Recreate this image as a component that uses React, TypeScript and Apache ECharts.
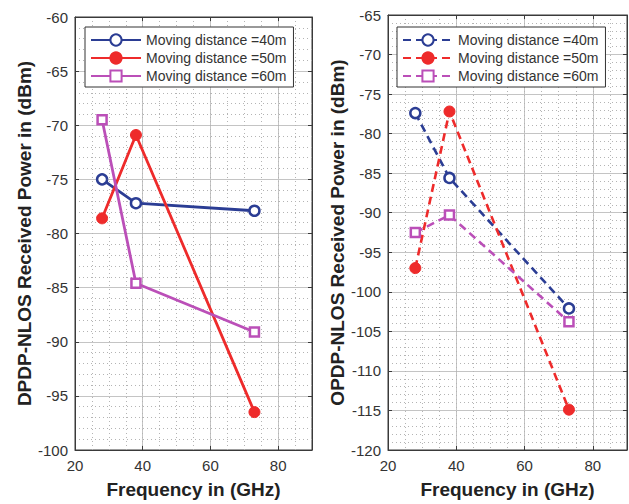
import React, { useEffect, useRef } from "react";
import * as echarts from "echarts";

const freqs = [28, 38, 73];
const xTicks = [20, 40, 60, 80];

// left panel (DPDP-NLOS)
const left40 = [-75.0, -77.2, -77.9];
const left50 = [-78.6, -70.9, -96.5];
const left60 = [-69.5, -84.6, -89.1];

// right panel (OPDP-NLOS)
const right40 = [-77.4, -85.6, -102.1];
const right50 = [-97.0, -77.2, -114.9];
const right60 = [-92.5, -90.3, -103.8];

const legendNames: Record<string, string> = {
  L40: "Moving distance =40m",
  L50: "Moving distance =50m",
  L60: "Moving distance =60m",
  R40: "Moving distance =40m",
  R50: "Moving distance =50m",
  R60: "Moving distance =60m",
};

const FONT = "Arial, 'Liberation Sans', Helvetica, sans-serif";
const BLUE = "#2b3d94";
const RED = "#ee2b2b";
const MAG = "#bb4fb8";
const AXIS = "#3a3a3a";

function pts(v: number[]) {
  return freqs.map((f, i) => [f, v[i]]);
}

export default function App() {
  const ref = useRef<HTMLDivElement>(null);
  useEffect(() => {
    if (!ref.current) return;
    const chart = echarts.init(ref.current, null, { renderer: "svg" });

    const mainX = (gridIndex: number) => ({
      type: "value",
      gridIndex,
      position: "bottom",
      min: xTicks[0],
      max: 90,
      interval: 20,
      axisLine: { show: true, lineStyle: { color: AXIS, width: 1 } },
      axisTick: { show: true, inside: true, length: 4, lineStyle: { color: AXIS } },
      axisLabel: { showMaxLabel: false, color: "#333", fontSize: 15, margin: 8, fontFamily: FONT },
      splitLine: { show: true, lineStyle: { color: "#c4c4c4", width: 1 } },
      name: "Frequency in (GHz)",
      nameLocation: "middle",
      nameGap: 30,
      nameTextStyle: { fontSize: 19, fontWeight: "bold", color: "#222", fontFamily: FONT },
    });
    const topX = (gridIndex: number) => ({
      type: "value",
      gridIndex,
      position: "top",
      min: 20,
      max: 90,
      interval: 20,
      axisLine: { show: true, lineStyle: { color: AXIS, width: 1 } },
      axisTick: { show: true, inside: true, length: 4, lineStyle: { color: AXIS } },
      axisLabel: { show: false },
      splitLine: { show: false },
    });
    const minorX = (gridIndex: number) => ({
      type: "value",
      gridIndex,
      position: "top",
      min: 20,
      max: 90,
      interval: 5,
      axisLine: { show: false },
      axisTick: { show: false },
      axisLabel: { show: false },
      splitLine: { show: true, lineStyle: { color: "#b4b4b4", width: 1, type: [1, 3] } },
    });
    const mainY = (gridIndex: number, min: number, max: number, name: string, gap: number) => ({
      type: "value",
      gridIndex,
      position: "left",
      min,
      max,
      interval: 5,
      axisLine: { show: true, lineStyle: { color: AXIS, width: 1 } },
      axisTick: { show: true, inside: true, length: 4, lineStyle: { color: AXIS } },
      axisLabel: { color: "#333", fontSize: 15, margin: 7, fontFamily: FONT },
      splitLine: { show: true, lineStyle: { color: "#c4c4c4", width: 1 } },
      minorTick: { show: false, splitNumber: 5 },
      minorSplitLine: { show: true, lineStyle: { color: "#b4b4b4", width: 1, type: [1, 3] } },
      name,
      nameLocation: "middle",
      nameGap: gap,
      nameTextStyle: { fontSize: 19, fontWeight: "bold", color: "#222", fontFamily: FONT },
    });
    const rightY = (gridIndex: number, min: number, max: number) => ({
      type: "value",
      gridIndex,
      position: "right",
      min,
      max,
      interval: 5,
      axisLine: { show: true, lineStyle: { color: AXIS, width: 1 } },
      axisTick: { show: true, inside: true, length: 4, lineStyle: { color: AXIS } },
      axisLabel: { show: false },
      splitLine: { show: false },
    });

    const solid = (name: string, data: number[], color: string, symbol: string, hollow: boolean, size: number, xi: number, yi: number, dashed: boolean) => ({
      type: "line",
      name,
      xAxisIndex: xi,
      yAxisIndex: yi,
      data: pts(data),
      symbol,
      symbolSize: size,
      showSymbol: true,
      lineStyle: { color, width: dashed ? 2.6 : 2.8, type: dashed ? [8, 5] : "solid" },
      itemStyle: hollow
        ? { color: "#fff", borderColor: color, borderWidth: 2.5 }
        : { color, borderColor: color, borderWidth: 1 },
      z: 5,
    });

    const legendBase = {
      orient: "vertical",
      top: 27,
      itemWidth: 50,
      itemHeight: 14,
      itemGap: 4,
      padding: [6, 7, 4, 5],
      backgroundColor: "#fff",
      borderColor: "#333",
      borderWidth: 1,
      borderRadius: 0,
      textStyle: { fontSize: 14, color: "#333", fontFamily: FONT },
      formatter: (n: string) => legendNames[n] || n,
      selectedMode: false,
    };

    chart.setOption({
      animation: false,
      backgroundColor: "#fff",
      grid: [
        { left: 75, top: 17, width: 237, height: 433, show: true, borderColor: AXIS, borderWidth: 1, containLabel: false },
        { left: 388, top: 15, width: 239, height: 437, show: true, borderColor: AXIS, borderWidth: 1, containLabel: false },
      ],
      xAxis: [mainX(0), topX(0), minorX(0), mainX(1), topX(1), minorX(1)],
      yAxis: [
        mainY(0, -100, -60, "DPDP-NLOS Received Power in (dBm)", 40),
        rightY(0, -100, -60),
        mainY(1, -120, -65, "OPDP-NLOS Received Power in (dBm)", 41),
        rightY(1, -120, -65),
      ],
      legend: [
        { ...legendBase, left: 85, data: ["L40", "L50", "L60"] },
        { ...legendBase, left: 397, data: ["R40", "R50", "R60"] },
      ],
      series: [
        solid("L40", left40, BLUE, "circle", true, 10, 0, 0, false),
        solid("L50", left50, RED, "circle", false, 11, 0, 0, false),
        solid("L60", left60, MAG, "rect", true, 9, 0, 0, false),
        solid("R40", right40, BLUE, "circle", true, 10, 3, 2, true),
        solid("R50", right50, RED, "circle", false, 11, 3, 2, true),
        solid("R60", right60, MAG, "rect", true, 9, 3, 2, true),
      ],
    });
    return () => chart.dispose();
  }, []);
  return (
    <div
      ref={ref}
      style={{ position: "absolute", left: 0, top: 0, width: 629, height: 504, background: "#fff" }}
    />
  );
}
